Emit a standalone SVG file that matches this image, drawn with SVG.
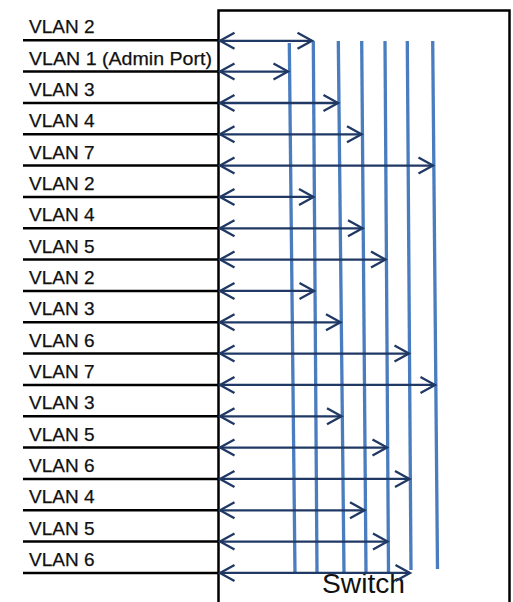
<svg xmlns="http://www.w3.org/2000/svg" width="513" height="602" viewBox="0 0 513 602">
<style>
.lbl{font-family:"Liberation Sans",Arial,sans-serif;font-size:19px;fill:#111;stroke:#111;stroke-width:0.25}
.row{stroke:#000;stroke-width:2.5;fill:none}
.bus{stroke:#4a7dbf;stroke-width:3.3;fill:none}
.arr{stroke:#1f3864;stroke-width:2.3;fill:none;marker-start:url(#ah);marker-end:url(#ah)}
</style>
<defs>
<marker id="ah" markerUnits="userSpaceOnUse" viewBox="-18 -10 20 20" markerWidth="20" markerHeight="20" refX="0" refY="0" orient="auto-start-reverse" overflow="visible">
<path d="M-14.5,-8 L0,0 L-14.5,8" fill="none" stroke="#1f3864" stroke-width="2.3"/>
</marker>
</defs>
<rect width="513" height="602" fill="#fff"/>
<g id="switch">
<rect x="218.5" y="10.5" width="291" height="600" fill="#fff" stroke="#000" stroke-width="2.5"/>
<text x="322" y="593" font-family="Liberation Sans, Arial, sans-serif" font-size="27" fill="#111" textLength="83" lengthAdjust="spacingAndGlyphs">Switch</text>
</g>
<g id="vlan-buses">
<line id="bus1" class="bus" x1="289.3" y1="43" x2="295" y2="573"/>
<line id="bus2" class="bus" x1="313.3" y1="41" x2="317" y2="573"/>
<line id="bus3" class="bus" x1="338.3" y1="41" x2="344" y2="573"/>
<line id="bus4" class="bus" x1="361.7" y1="41" x2="366" y2="573"/>
<line id="bus5" class="bus" x1="385" y1="41" x2="388.5" y2="573"/>
<line id="bus6" class="bus" x1="407.3" y1="41" x2="411" y2="570"/>
<line id="bus7" class="bus" x1="432.7" y1="41" x2="437.5" y2="569"/>
</g>
<g id="ports">
<g id="port1"><text class="lbl" x="29" y="33.3">VLAN 2</text><line class="row" x1="23" y1="40.3" x2="218" y2="40.3"/></g>
<g id="port2"><text class="lbl" x="29" y="64.6" textLength="183" lengthAdjust="spacingAndGlyphs">VLAN 1 (Admin Port)</text><line class="row" x1="23" y1="71.6" x2="218" y2="71.6"/></g>
<g id="port3"><text class="lbl" x="29" y="96">VLAN 3</text><line class="row" x1="23" y1="103" x2="218" y2="103"/></g>
<g id="port4"><text class="lbl" x="29" y="127.3">VLAN 4</text><line class="row" x1="23" y1="134.3" x2="218" y2="134.3"/></g>
<g id="port5"><text class="lbl" x="29" y="158.6">VLAN 7</text><line class="row" x1="23" y1="165.6" x2="218" y2="165.6"/></g>
<g id="port6"><text class="lbl" x="29" y="189.9">VLAN 2</text><line class="row" x1="23" y1="196.9" x2="218" y2="196.9"/></g>
<g id="port7"><text class="lbl" x="29" y="221.3">VLAN 4</text><line class="row" x1="23" y1="228.3" x2="218" y2="228.3"/></g>
<g id="port8"><text class="lbl" x="29" y="252.6">VLAN 5</text><line class="row" x1="23" y1="259.6" x2="218" y2="259.6"/></g>
<g id="port9"><text class="lbl" x="29" y="283.9">VLAN 2</text><line class="row" x1="23" y1="290.9" x2="218" y2="290.9"/></g>
<g id="port10"><text class="lbl" x="29" y="315.3">VLAN 3</text><line class="row" x1="23" y1="322.3" x2="218" y2="322.3"/></g>
<g id="port11"><text class="lbl" x="29" y="346.6">VLAN 6</text><line class="row" x1="23" y1="353.6" x2="218" y2="353.6"/></g>
<g id="port12"><text class="lbl" x="29" y="377.9">VLAN 7</text><line class="row" x1="23" y1="384.9" x2="218" y2="384.9"/></g>
<g id="port13"><text class="lbl" x="29" y="409.3">VLAN 3</text><line class="row" x1="23" y1="416.3" x2="218" y2="416.3"/></g>
<g id="port14"><text class="lbl" x="29" y="440.6">VLAN 5</text><line class="row" x1="23" y1="447.6" x2="218" y2="447.6"/></g>
<g id="port15"><text class="lbl" x="29" y="471.9">VLAN 6</text><line class="row" x1="23" y1="478.9" x2="218" y2="478.9"/></g>
<g id="port16"><text class="lbl" x="29" y="503.3">VLAN 4</text><line class="row" x1="23" y1="510.3" x2="218" y2="510.3"/></g>
<g id="port17"><text class="lbl" x="29" y="534.6">VLAN 5</text><line class="row" x1="23" y1="541.6" x2="218" y2="541.6"/></g>
<g id="port18"><text class="lbl" x="29" y="565.9">VLAN 6</text><line class="row" x1="23" y1="572.9" x2="218" y2="572.9"/></g>
</g>
<g id="connectors">
<line class="arr" x1="220" y1="40.8" x2="312" y2="40.8"/>
<line class="arr" x1="220" y1="71.6" x2="288" y2="71.6"/>
<line class="arr" x1="220" y1="103" x2="338" y2="103"/>
<line class="arr" x1="220" y1="134.3" x2="361.5" y2="134.3"/>
<line class="arr" x1="220" y1="165.6" x2="433" y2="165.6"/>
<line class="arr" x1="220" y1="196.9" x2="313.5" y2="196.9"/>
<line class="arr" x1="220" y1="228.3" x2="362.5" y2="228.3"/>
<line class="arr" x1="220" y1="259.6" x2="385.5" y2="259.6"/>
<line class="arr" x1="220" y1="290.9" x2="314" y2="290.9"/>
<line class="arr" x1="220" y1="322.3" x2="340.5" y2="322.3"/>
<line class="arr" x1="220" y1="353.6" x2="409" y2="353.6"/>
<line class="arr" x1="220" y1="384.9" x2="435" y2="384.9"/>
<line class="arr" x1="220" y1="416.3" x2="341.5" y2="416.3"/>
<line class="arr" x1="220" y1="447.6" x2="387" y2="447.6"/>
<line class="arr" x1="220" y1="478.9" x2="409.5" y2="478.9"/>
<line class="arr" x1="220" y1="510.3" x2="364.5" y2="510.3"/>
<line class="arr" x1="220" y1="541.6" x2="387.5" y2="541.6"/>
<line class="arr" x1="220" y1="572.9" x2="410" y2="572.9"/>
</g>
</svg>
